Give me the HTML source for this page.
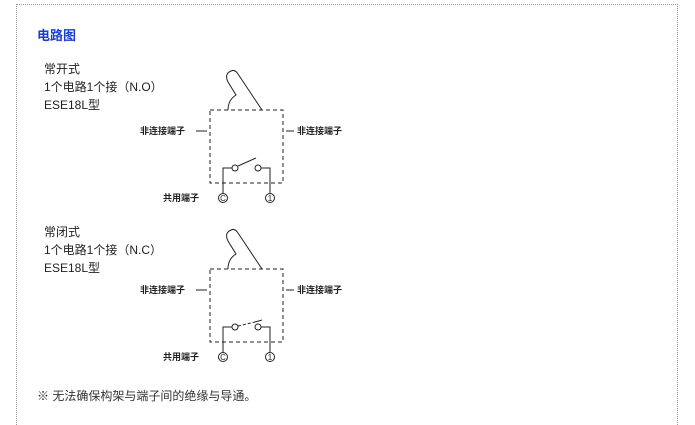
<!DOCTYPE html>
<html><head><meta charset="utf-8"><style>
body{margin:0;background:#fff;width:695px;height:404px;overflow:hidden;position:relative;font-family:"Liberation Sans","Noto Sans CJK SC",sans-serif;}
.b{position:absolute;left:16px;top:4px;width:660px;height:420px;border-top:1px dotted #999;border-left:1px dotted #999;border-right:1px dotted #999;}
.t{position:absolute;left:37px;top:25px;font-size:13px;font-weight:bold;color:#1a3fd0;}
.d{position:absolute;left:44px;font-size:12px;line-height:18px;color:#222;}
.f{position:absolute;left:37px;top:387px;font-size:12px;color:#333;}
svg{position:absolute;left:0;top:0}
</style></head><body>
<div class="b"></div>
<div class="t">电路图</div>
<div class="d" style="top:60px">常开式<br>1个电路1个接（N.O）<br>ESE18L型</div>
<div class="d" style="top:223px">常闭式<br>1个电路1个接（N.C）<br>ESE18L型</div>
<div class="f">※ 无法确保构架与端子间的绝缘与导通。</div>
<svg width="695" height="404" font-family="Liberation Sans, Noto Sans CJK SC, sans-serif" font-size="9" font-weight="bold" fill="#222">
<g id="g1" stroke="#222" fill="none" stroke-width="1">
<rect x="210" y="110" width="73" height="73" stroke-dasharray="4,3"/>
<path d="M228 110 Q228 100 236 95 L228 82 Q224 74 231 71 Q235 69 238 74 L262 110"/>
<line x1="196" y1="131" x2="207" y2="131"/>
<line x1="286" y1="131" x2="294" y2="131"/>
<circle cx="235" cy="168" r="3"/><circle cx="258" cy="168" r="3"/>
<path d="M232 168 H223 V194"/><path d="M261 168 H270 V194"/>
<line x1="238" y1="166" x2="256" y2="158"/>
<circle cx="223" cy="198" r="4.5"/><circle cx="270" cy="198" r="4.5"/>
</g>
<g stroke="#222" fill="none" stroke-width="1" transform="translate(0,159)">
<rect x="210" y="110" width="73" height="73" stroke-dasharray="4,3"/>
<path d="M228 110 Q228 100 236 95 L228 82 Q224 74 231 71 Q235 69 238 74 L262 110"/>
<line x1="196" y1="131" x2="207" y2="131"/>
<line x1="286" y1="131" x2="294" y2="131"/>
<circle cx="235" cy="168" r="3"/><circle cx="258" cy="168" r="3"/>
<path d="M232 168 H223 V194"/><path d="M261 168 H270 V194"/>
<line x1="238" y1="167" x2="255" y2="163" stroke-dasharray="3,2"/>
<line x1="255" y1="163" x2="262" y2="161"/>
<circle cx="223" cy="198" r="4.5"/><circle cx="270" cy="198" r="4.5"/>
</g>
<text x="140" y="134">非连接端子</text><text x="297" y="134">非连接端子</text>
<text x="163" y="201">共用端子</text>
<text x="140" y="293">非连接端子</text><text x="297" y="293">非连接端子</text>
<text x="163" y="360">共用端子</text>
<g font-size="8" font-weight="normal" text-anchor="middle">
<text x="223" y="201">C</text><text x="270" y="201">1</text>
<text x="223" y="360">C</text><text x="270" y="360">1</text>
</g>
</svg>
</body></html>
